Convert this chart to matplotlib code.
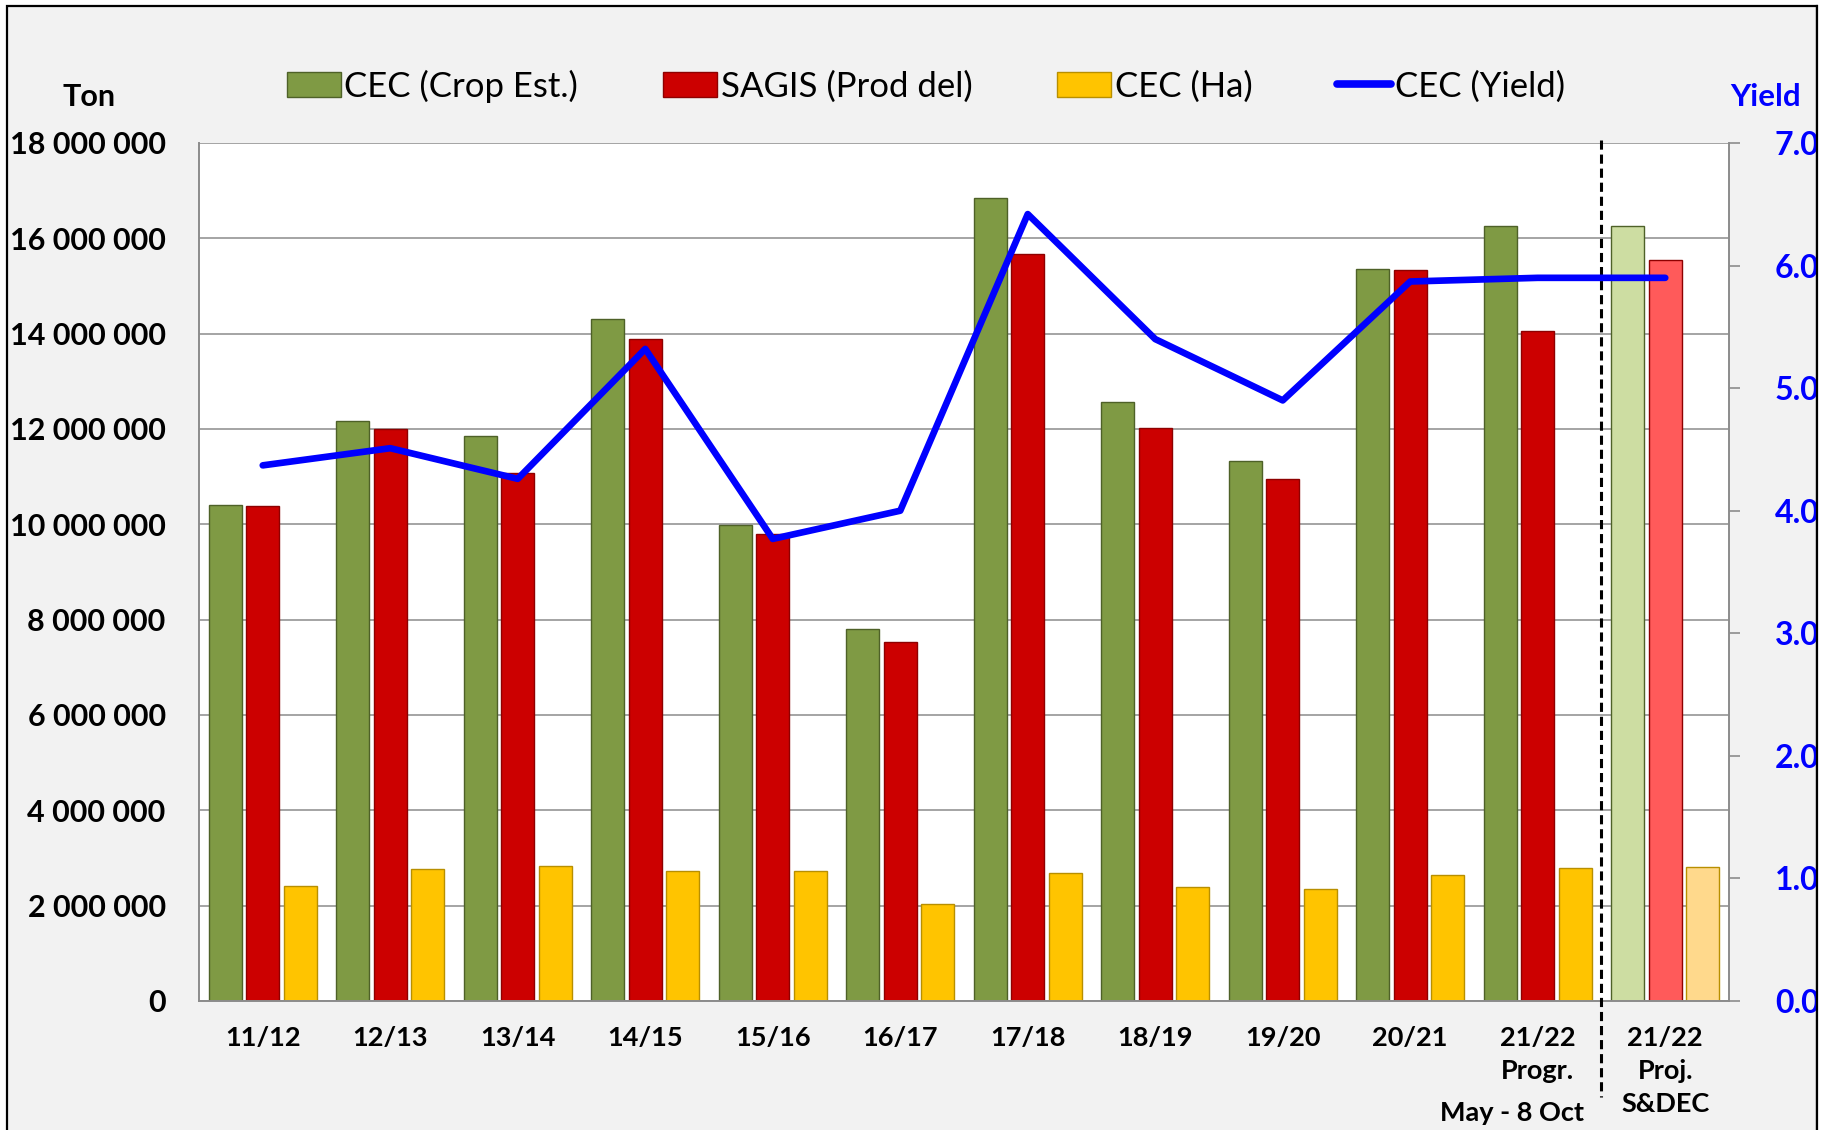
import numpy as np
import matplotlib.pyplot as plt
from matplotlib.patches import Patch, Rectangle
from matplotlib.lines import Line2D
import matplotlib.transforms as mtransforms

plt.rcParams['font.family'] = ['Lato', 'DejaVu Sans']

seasons = ['11/12', '12/13', '13/14', '14/15', '15/16', '16/17', '17/18',
           '18/19', '19/20', '20/21', '21/22\nProgr.', '21/22\nProj.\nS&DEC']

# CEC crop estimate (ton)
cec_crop = [10410000, 12170000, 11850000, 14300000, 9990000, 7810000, 16850000,
            12560000, 11320000, 15360000, 16260000, 16260000]
# SAGIS producer deliveries (ton)
sagis = [10380000, 12000000, 11070000, 13890000, 9800000, 7540000, 15670000,
         12020000, 10950000, 15330000, 14060000, 15550000]
# CEC area (ha)
cec_ha = [2420000, 2770000, 2840000, 2720000, 2720000, 2030000, 2690000,
          2400000, 2350000, 2640000, 2790000, 2820000]
# CEC yield (t/ha)
cec_yield = [4.37, 4.51, 4.26, 5.32, 3.77, 4.00, 6.42, 5.40, 4.90, 5.87, 5.90, 5.90]

W, H = 1831, 1130
fig = plt.figure(figsize=(W / 100, H / 100), dpi=100, facecolor='white')

# grey background panel with black frame
fig.patches.append(Rectangle((7 / W, -0.02), 1810 / W, 1.02 - 6 / H, transform=fig.transFigure,
                             facecolor='#F2F2F2', edgecolor='black', lw=1.6, zorder=-10))

ax = fig.add_axes([199 / W, 1 - 1001 / H, 1530 / W, 858 / H])
ax.set_facecolor('white')
x = np.arange(len(seasons))
bw = 0.26

green = ['#7F9A44'] * 11 + ['#CDDDA2']
red = ['#CC0000'] * 11 + ['#FF5A5A']
yellow = ['#FFC400'] * 11 + ['#FFD98C']

ax.bar(x - 0.295, cec_crop, bw, color=green, edgecolor='#4E6128', lw=1.0, zorder=2)
ax.bar(x, sagis, bw, color=red, edgecolor='#8E0000', lw=1.0, zorder=2)
ax.bar(x + 0.295, cec_ha, bw, color=yellow, edgecolor='#B88F00', lw=1.0, zorder=2)

ax.set_xlim(-0.5, len(seasons) - 0.5)
ax.set_ylim(0, 18000000)
ax.set_yticks(np.arange(0, 18000001, 2000000))
ax.set_yticklabels(['{:,}'.format(v).replace(',', ' ') for v in range(0, 18000001, 2000000)],
                   fontsize=22, fontweight='bold')
ax.tick_params(axis='y', length=0, pad=24)
ax.grid(axis='y', color='#8C8C8C', lw=1.1)
ax.set_axisbelow(True)
for s in ['left', 'bottom', 'right']:
    ax.spines[s].set_color('#8C8C8C')
    ax.spines[s].set_linewidth(1.4)
ax.spines['top'].set_visible(False)

ax.set_xticks(x)
ax.set_xticklabels(seasons, fontsize=19.5, fontweight='bold', linespacing=1.45, va='top')
ax.tick_params(axis='x', length=0, pad=18)

# extra label line under "Progr."
ax.text(9.8, -0.13, 'May - 8 Oct', transform=mtransforms.blended_transform_factory(ax.transData, ax.transAxes),
        ha='center', va='center', fontsize=19.5, fontweight='bold')

# separator between progress and projection
ax.plot([10.5, 10.5], [1.003, -0.112], transform=mtransforms.blended_transform_factory(ax.transData, ax.transAxes),
        color='black', lw=2.2, linestyle=(0, (3, 1.6)), clip_on=False, zorder=5)

ax2 = ax.twinx()
ax2.plot(x, cec_yield, color='#0000FF', lw=4.8, solid_capstyle='round', zorder=4)
ax2.set_ylim(0, 7)
ax2.set_yticks(np.arange(0, 7.1, 1))
ax2.set_yticklabels(['{:.1f}'.format(v) for v in np.arange(0, 7.1, 1)],
                    fontsize=23, fontweight='bold', color='#0000FF')
ax2.tick_params(axis='y', length=8, width=1.2, color='#8C8C8C', pad=25)
for s in ax2.spines.values():
    s.set_visible(False)

fig.text(89 / W, 1 - 97 / H, 'Ton', ha='center', va='center', fontsize=22, fontweight='bold')
fig.text(1766 / W, 1 - 97 / H, 'Yield', ha='center', va='center', fontsize=22.5,
         fontweight='bold', color='#0000FF')

handles = [Patch(facecolor='#7F9A44', edgecolor='#4E6128'),
           Patch(facecolor='#CC0000', edgecolor='#8E0000'),
           Patch(facecolor='#FFC400', edgecolor='#B88F00'),
           Line2D([], [], color='#0000FF', lw=5.5, solid_capstyle='round')]
names = ['CEC (Crop Est.)', 'SAGIS (Prod del)', 'CEC (Ha)', 'CEC (Yield)']
fig.legend(handles, names, loc='center left', bbox_to_anchor=(287 / W, 1 - 86 / H), ncol=4,
           frameon=False, fontsize=25, handlelength=1.55, handleheight=0.7, handletextpad=0.1,
           columnspacing=2.45, borderpad=0, borderaxespad=0)

# clip the right labels at the frame, like the original
fig.patches.append(Rectangle((1818 / W, 0), 1, 1, transform=fig.transFigure,
                             facecolor='white', edgecolor='none', zorder=10))
fig.lines.append(Line2D([1817 / W, 1817 / W], [0, 1 - 6 / H], transform=fig.transFigure,
                        color='black', lw=1.6, zorder=11))

fig.savefig('out.png', dpi=100, facecolor='white')
